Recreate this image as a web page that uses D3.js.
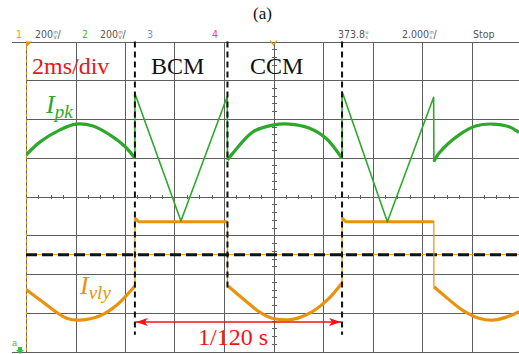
<!DOCTYPE html>
<html>
<head>
<meta charset="utf-8">
<script src="https://cdn.jsdelivr.net/npm/d3@7"></script>
<style>
  html, body { margin: 0; padding: 0; background: #fff; }
  svg { display: block; }
</style>
</head>
<body>
<svg id="scope" width="519" height="354"></svg>
<script>
// scope screen: time in ms (2 ms/div), levels in divisions
var xTicks = d3.range(0, 21, 2);
var yTicks = d3.range(-4, 5, 1);

// mode boundaries (ms) and the 1/120 s span
var modeEdges = [4.40, 8.14, 12.77];
var edgeBottoms = [-3.57, -2.36, -3.57];
var periodSpan = [4.40, 12.77];
var periodLevel = -3.24;
var refLevel = -1.5;

// Ipk (green): [ms, div]
var ipkHumpA = [[0, 1.07], [0.57, 1.41], [1.37, 1.72], [2.02, 1.87], [2.71, 1.82], [3.39, 1.59], [4.0, 1.29], [4.40, 0.99]];
var ipkV1 = [[4.40, 0.99], [4.40, 2.66], [6.26, -0.63], [8.13, 2.58], [8.14, 0.94]];
var ipkHumpB = [[8.14, 0.94], [8.36, 1.12], [9.17, 1.67], [10.02, 1.85], [10.63, 1.87], [11.43, 1.77], [12.11, 1.51], [12.76, 0.99]];
var ipkV2 = [[12.77, 0.99], [12.77, 2.71], [14.60, -0.65], [16.47, 2.56], [16.48, 0.90]];
var ipkHumpC = [[16.48, 0.90], [16.69, 1.12], [17.50, 1.59], [18.17, 1.82], [18.83, 1.87], [19.52, 1.80], [19.92, 1.65]];

// Ivly (orange)
var ivlySagA = [[0, -2.40], [0.57, -2.67], [1.64, -3.14], [2.18, -3.19], [2.99, -3.08], [3.67, -2.80], [4.40, -2.31]];
var ivlyStep1 = [[4.40, -2.31], [4.40, -0.56], [4.55, -0.65], [8.14, -0.65], [8.14, -2.31]];
var ivlySagB = [[8.16, -2.31], [8.92, -2.72], [9.41, -2.97], [9.95, -3.14], [10.76, -3.17], [11.57, -2.97], [12.24, -2.63], [12.76, -2.24]];
var ivlyStep2 = [[12.77, -2.24], [12.77, -0.56], [12.92, -0.65], [16.48, -0.65], [16.48, -2.33]];
var ivlySagC = [[16.48, -2.33], [16.96, -2.59], [17.63, -2.93], [18.30, -3.14], [18.84, -3.19], [19.38, -3.12], [19.92, -2.97]];

// header readout
var header = [
    {text: "1", x: 16, color: "#f0961e"},
    {text: "200", x: 35, color: "#555", unit: ["m", "V"], slash: true},
    {text: "2", x: 82, color: "#3cbc3c"},
    {text: "200", x: 100, color: "#555", unit: ["m", "V"], slash: true},
    {text: "3", x: 147, color: "#6f8ff0"},
    {text: "4", x: 212, color: "#f03ca0"},
    {text: "373.8", x: 338, color: "#555", unit: ["u", "s"]},
    {text: "2.000", x: 402, color: "#555", unit: ["m", "s"], slash: true},
    {text: "Stop", x: 473, color: "#555"}
];

var green = "#2ea82a",
    orange = "#e8920e",
    red = "#f01414",
    serif = "'Liberation Serif', 'Times New Roman', serif";

var svg = d3.select("#scope");

var x = d3.scaleLinear().domain([0, 20]).range([26, 521]);
var y = d3.scaleLinear().domain([-4, 4]).range([351.5, 41.5]);

svg.append("rect").attr("width", 519).attr("height", 354).attr("fill", "#fff");

svg.append("defs").append("clipPath").attr("id", "screen")
    .append("rect")
    .attr("x", x(0)).attr("y", y(4))
    .attr("width", 519 - x(0)).attr("height", y(-4) - y(4));

// grid
var grid = svg.append("g").attr("shape-rendering", "crispEdges");

grid.selectAll("line.v")
    .data(xTicks)
    .enter()
    .append("line")
    .attr("class", "v")
    .attr("x1", function (d) { return Math.round(x(d)) + 0.5; })
    .attr("x2", function (d) { return Math.round(x(d)) + 0.5; })
    .attr("y1", y(4))
    .attr("y2", y(-4))
    .attr("stroke", "#5e5e5e")
    .attr("stroke-width", 1);

grid.selectAll("line.h")
    .data(yTicks)
    .enter()
    .append("line")
    .attr("class", "h")
    .attr("x1", function (d) { return (d === 4 || d === -4) ? 12 : x(0); })
    .attr("x2", 519)
    .attr("y1", function (d) { return Math.round(y(d)) + 0.5; })
    .attr("y2", function (d) { return Math.round(y(d)) + 0.5; })
    .attr("stroke", "#5e5e5e")
    .attr("stroke-width", 1);

// centre axis minor ticks
grid.selectAll("line.ty")
    .data(d3.range(-4, 4.001, 0.2))
    .enter()
    .append("line")
    .attr("class", "ty")
    .attr("x1", x(10) - 2).attr("x2", x(10) + 3)
    .attr("y1", function (d) { return Math.round(y(d)) + 0.5; })
    .attr("y2", function (d) { return Math.round(y(d)) + 0.5; })
    .attr("stroke", "#5e5e5e");

grid.selectAll("line.tx")
    .data(d3.range(0, 20.001, 0.5))
    .enter()
    .append("line")
    .attr("class", "tx")
    .attr("x1", function (d) { return Math.round(x(d)) + 0.5; })
    .attr("x2", function (d) { return Math.round(x(d)) + 0.5; })
    .attr("y1", y(0) - 2).attr("y2", y(0) + 2)
    .attr("stroke", "#5e5e5e");

// left edge channel marker
svg.append("line")
    .attr("x1", x(0) + 0.5).attr("x2", x(0) + 0.5)
    .attr("y1", y(4)).attr("y2", y(-4))
    .attr("stroke", orange)
    .attr("stroke-dasharray", "3,3")
    .attr("stroke-width", 1);

svg.append("path")
    .attr("d", "M" + x(0) + "," + y(4) + "l6,0l-6,6z")
    .attr("fill", orange);

svg.append("path")
    .attr("d", "M" + (x(10) - 3.5) + "," + (y(4) - 1) + "l3.5,4.5l3.5,-4.5")
    .attr("fill", "none")
    .attr("stroke", orange)
    .attr("stroke-width", 1.2);

// reference level: thin orange under thick black dashes
svg.append("line")
    .attr("x1", x(0)).attr("x2", 519)
    .attr("y1", y(refLevel)).attr("y2", y(refLevel))
    .attr("stroke", orange)
    .attr("stroke-width", 1);

svg.append("line")
    .attr("x1", x(0)).attr("x2", 519)
    .attr("y1", y(refLevel)).attr("y2", y(refLevel))
    .attr("stroke", "#111")
    .attr("stroke-width", 3)
    .attr("stroke-dasharray", "11,5");

// traces
var traces = svg.append("g").attr("clip-path", "url(#screen)");

var line = d3.line()
    .x(function (d) { return x(d[0]); })
    .y(function (d) { return y(d[1]); });

var curve = d3.line()
    .x(function (d) { return x(d[0]); })
    .y(function (d) { return y(d[1]); })
    .curve(d3.curveCatmullRom);

function trace(data, gen, color, width) {
    traces.append("path")
        .attr("d", gen(data))
        .attr("fill", "none")
        .attr("stroke", color)
        .attr("stroke-width", width)
        .attr("stroke-linejoin", "round");
}

trace(ivlyStep1, line, orange, 1.2);
trace(ivlyStep2, line, orange, 1.2);
trace(ivlyStep1.slice(1, 4), line, orange, 3);
trace(ivlyStep2.slice(1, 4), line, orange, 3);
[ivlySagA, ivlySagB, ivlySagC].forEach(function (d) { trace(d, curve, orange, 3.2); });

trace(ipkV1, line, green, 1.6);
trace(ipkV2, line, green, 1.6);
[ipkHumpA, ipkHumpB, ipkHumpC].forEach(function (d) { trace(d, curve, green, 3.2); });

// mode boundaries
svg.selectAll("line.edge")
    .data(modeEdges)
    .enter()
    .append("line")
    .attr("class", "edge")
    .attr("x1", x).attr("x2", x)
    .attr("y1", y(4))
    .attr("y2", function (d, i) { return y(edgeBottoms[i]); })
    .attr("stroke", "#111")
    .attr("stroke-width", 2)
    .attr("stroke-dasharray", "6,4");

// 1/120 s arrow
svg.append("defs").append("marker")
    .attr("id", "head")
    .attr("viewBox", "0 0 12 8")
    .attr("refX", 12).attr("refY", 4)
    .attr("markerWidth", 12).attr("markerHeight", 8)
    .attr("markerUnits", "userSpaceOnUse")
    .attr("orient", "auto-start-reverse")
    .append("path")
    .attr("d", "M0,0L12,4L0,8L3,4z")
    .attr("fill", red);

svg.append("line")
    .attr("x1", x(periodSpan[0]) + 1).attr("x2", x(periodSpan[1]) - 1)
    .attr("y1", y(periodLevel)).attr("y2", y(periodLevel))
    .attr("stroke", red)
    .attr("stroke-width", 1.4)
    .attr("marker-start", "url(#head)")
    .attr("marker-end", "url(#head)");

// annotations
function label(txt, px, py, color, size) {
    return svg.append("text")
        .attr("x", px).attr("y", py)
        .attr("fill", color)
        .attr("font-family", serif)
        .attr("font-size", size)
        .text(txt);
}

label("(a)", 253, 19, "#111", 17);
label("2ms/div", 32, 74, red, 24);
label("BCM", 151, 74, "#111", 24);
label("CCM", 250, 74, "#111", 24);
label("1/120 s", 198, 345, red, 24);

var ipk = label("I", 46, 113, green, 26).attr("font-style", "italic");
ipk.append("tspan").attr("font-size", 19).attr("dy", 5).text("pk");

var ivly = label("I", 80, 294, orange, 26).attr("font-style", "italic");
ivly.append("tspan").attr("font-size", 19).attr("dy", 5).text("vly");

// header readout
var head = svg.append("g")
    .attr("font-family", "'Liberation Sans Narrow', 'DejaVu Sans Condensed', sans-serif")
    .attr("font-size", 10.5);

header.forEach(function (h) {
    var t = head.append("text")
        .attr("x", h.x).attr("y", 38)
        .attr("fill", h.color)
        .text(h.text);
    if (!h.unit) return;
    var end = h.x + t.node().getComputedTextLength() + 0.5;
    head.append("text").attr("x", end).attr("y", 33.5)
        .attr("font-size", 5).attr("fill", h.color).text(h.unit[0]);
    head.append("text").attr("x", end).attr("y", 38.5)
        .attr("font-size", 5).attr("fill", h.color).text(h.unit[1]);
    if (h.slash) {
        head.append("text").attr("x", end + 4).attr("y", 38)
            .attr("fill", h.color).text("/");
    }
});

// ground marker bottom-left
svg.append("text")
    .attr("x", 12).attr("y", 346)
    .attr("font-family", "'Liberation Sans', sans-serif")
    .attr("font-size", 9)
    .attr("fill", "#4cc04c")
    .text("a");

svg.append("path")
    .attr("d", "M18,347l4,0l0,3l2,0l-4,4l-4,-4l2,0z")
    .attr("fill", "#3cbc3c");
</script>
</body>
</html>
